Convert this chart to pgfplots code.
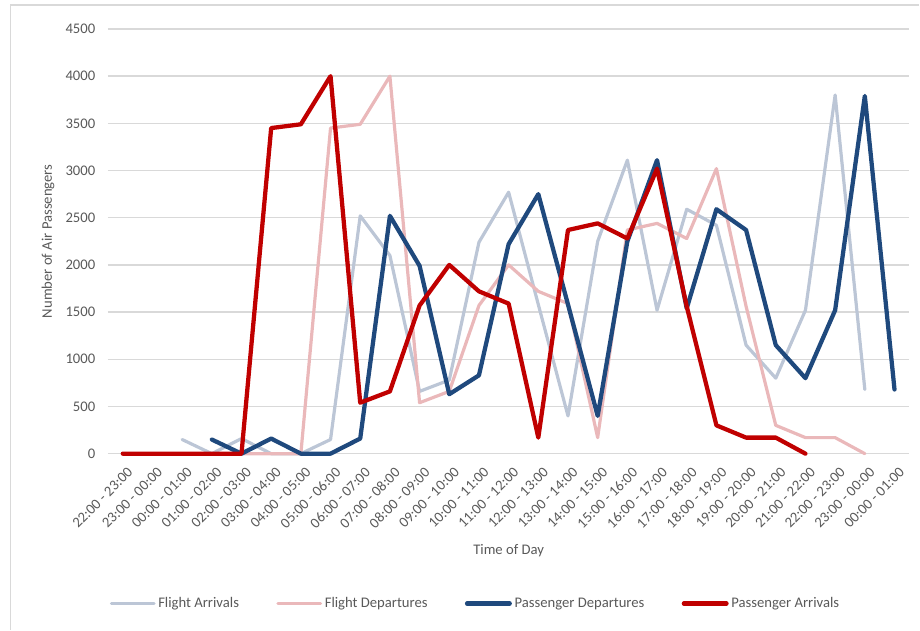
\documentclass[border=0pt]{standalone}
\usepackage{fontspec}
\setmainfont{Carlito}
\usepackage{pgfplots}
\pgfplotsset{compat=1.18}
\definecolor{fa}{RGB}{188,198,214}
\definecolor{fd}{RGB}{234,184,186}
\definecolor{pd}{RGB}{31,73,125}
\definecolor{pa}{RGB}{192,0,0}
\definecolor{txt}{RGB}{89,89,89}
\definecolor{grd}{RGB}{217,217,217}
\begin{document}
\begin{tikzpicture}
\path (0pt,0pt) rectangle (690pt,472.5pt);
\draw[grd, line width=1pt] (8pt,0pt) -- (8pt,468.75pt) -- (690pt,468.75pt);
\begin{axis}[
  at={(81pt,132pt)}, anchor=south west,
  scale only axis, width=601.5pt, height=318.75pt,
  xmin=-0.5, xmax=26.5, ymin=0, ymax=4500,
  clip=false,
  axis line style={draw=none},
  tick style={draw=none},
  ytick={0,500,...,4500},
  xtick={0,...,26},
  xticklabels={22:00 - 23:00,23:00 - 00:00,00:00 - 01:00,01:00 - 02:00,02:00 - 03:00,03:00 - 04:00,04:00 - 05:00,05:00 - 06:00,06:00 - 07:00,07:00 - 08:00,08:00 - 09:00,09:00 - 10:00,10:00 - 11:00,11:00 - 12:00,12:00 - 13:00,13:00 - 14:00,14:00 - 15:00,15:00 - 16:00,16:00 - 17:00,17:00 - 18:00,18:00 - 19:00,19:00 - 20:00,20:00 - 21:00,21:00 - 22:00,22:00 - 23:00,23:00 - 00:00,00:00 - 01:00},
  ymajorgrids, grid style={grd, line width=1.1pt},
  font=\fontsize{11}{13}\selectfont,
  tick label style={text=txt},
  /pgf/number format/assume math mode=true,
  /pgf/number format/1000 sep={},
  scaled y ticks=false,
  yticklabel style={xshift=-6pt},
  xticklabel style={xshift=3pt, yshift=-8pt, rotate=45, anchor=north east, inner sep=1pt},
  ylabel={Number of Air Passengers},
  ylabel style={at={(axis description cs:-0.0748,0.5)}, anchor=center, text=txt},
  xlabel={Time of Day},
  xlabel style={at={(axis description cs:0.5,-0.228)}, anchor=center, text=txt},
  legend columns=4,
  legend cell align=left,
  legend style={at={(axis description cs:0.459,-0.353)}, anchor=center, draw=none, fill=none, text=txt, font=\fontsize{11}{13}\selectfont, /tikz/every even column/.append style={column sep=26pt}},
  legend image code/.code={\draw[#1] (0pt,0pt) -- (32pt,0pt);},
  every axis plot/.append style={line join=round, line cap=round},
]
\addplot[fa, line width=2.4pt] coordinates {
(2,150) (3,0) (4,160) (5,0) (6,0) (7,150) (8,2520) (9,2100) (10,660) (11,780) (12,2240) (13,2770) (14,1580) (15,400) (16,2250) (17,3110) (18,1520) (19,2590) (20,2420) (21,1150) (22,800) (23,1520) (24,3800) (25,680)};
\addlegendentry{Flight Arrivals}
\addplot[fd, line width=2.4pt] coordinates {
(2,0) (3,0) (4,0) (5,0) (6,0) (7,3450) (8,3490) (9,4000) (10,540) (11,660) (12,1570) (13,2000) (14,1720) (15,1590) (16,170) (17,2370) (18,2440) (19,2280) (20,3020) (21,1560) (22,300) (23,170) (24,170) (25,0)};
\addlegendentry{Flight Departures}
\addplot[pd, line width=3.2pt] coordinates {
(3,150) (4,0) (5,160) (6,0) (7,0) (8,160) (9,2520) (10,1990) (11,630) (12,830) (13,2220) (14,2750) (15,1580) (16,400) (17,2250) (18,3110) (19,1540) (20,2590) (21,2370) (22,1150) (23,800) (24,1520) (25,3790) (26,680)};
\addlegendentry{Passenger Departures}
\addplot[pa, line width=3.2pt] coordinates {
(0,0) (1,0) (2,0) (3,0) (4,0) (5,3450) (6,3490) (7,4000) (8,540) (9,660) (10,1570) (11,2000) (12,1720) (13,1590) (14,170) (15,2370) (16,2440) (17,2280) (18,3020) (19,1560) (20,300) (21,170) (22,170) (23,0)};
\addlegendentry{Passenger Arrivals}
\end{axis}
\end{tikzpicture}
\end{document}
